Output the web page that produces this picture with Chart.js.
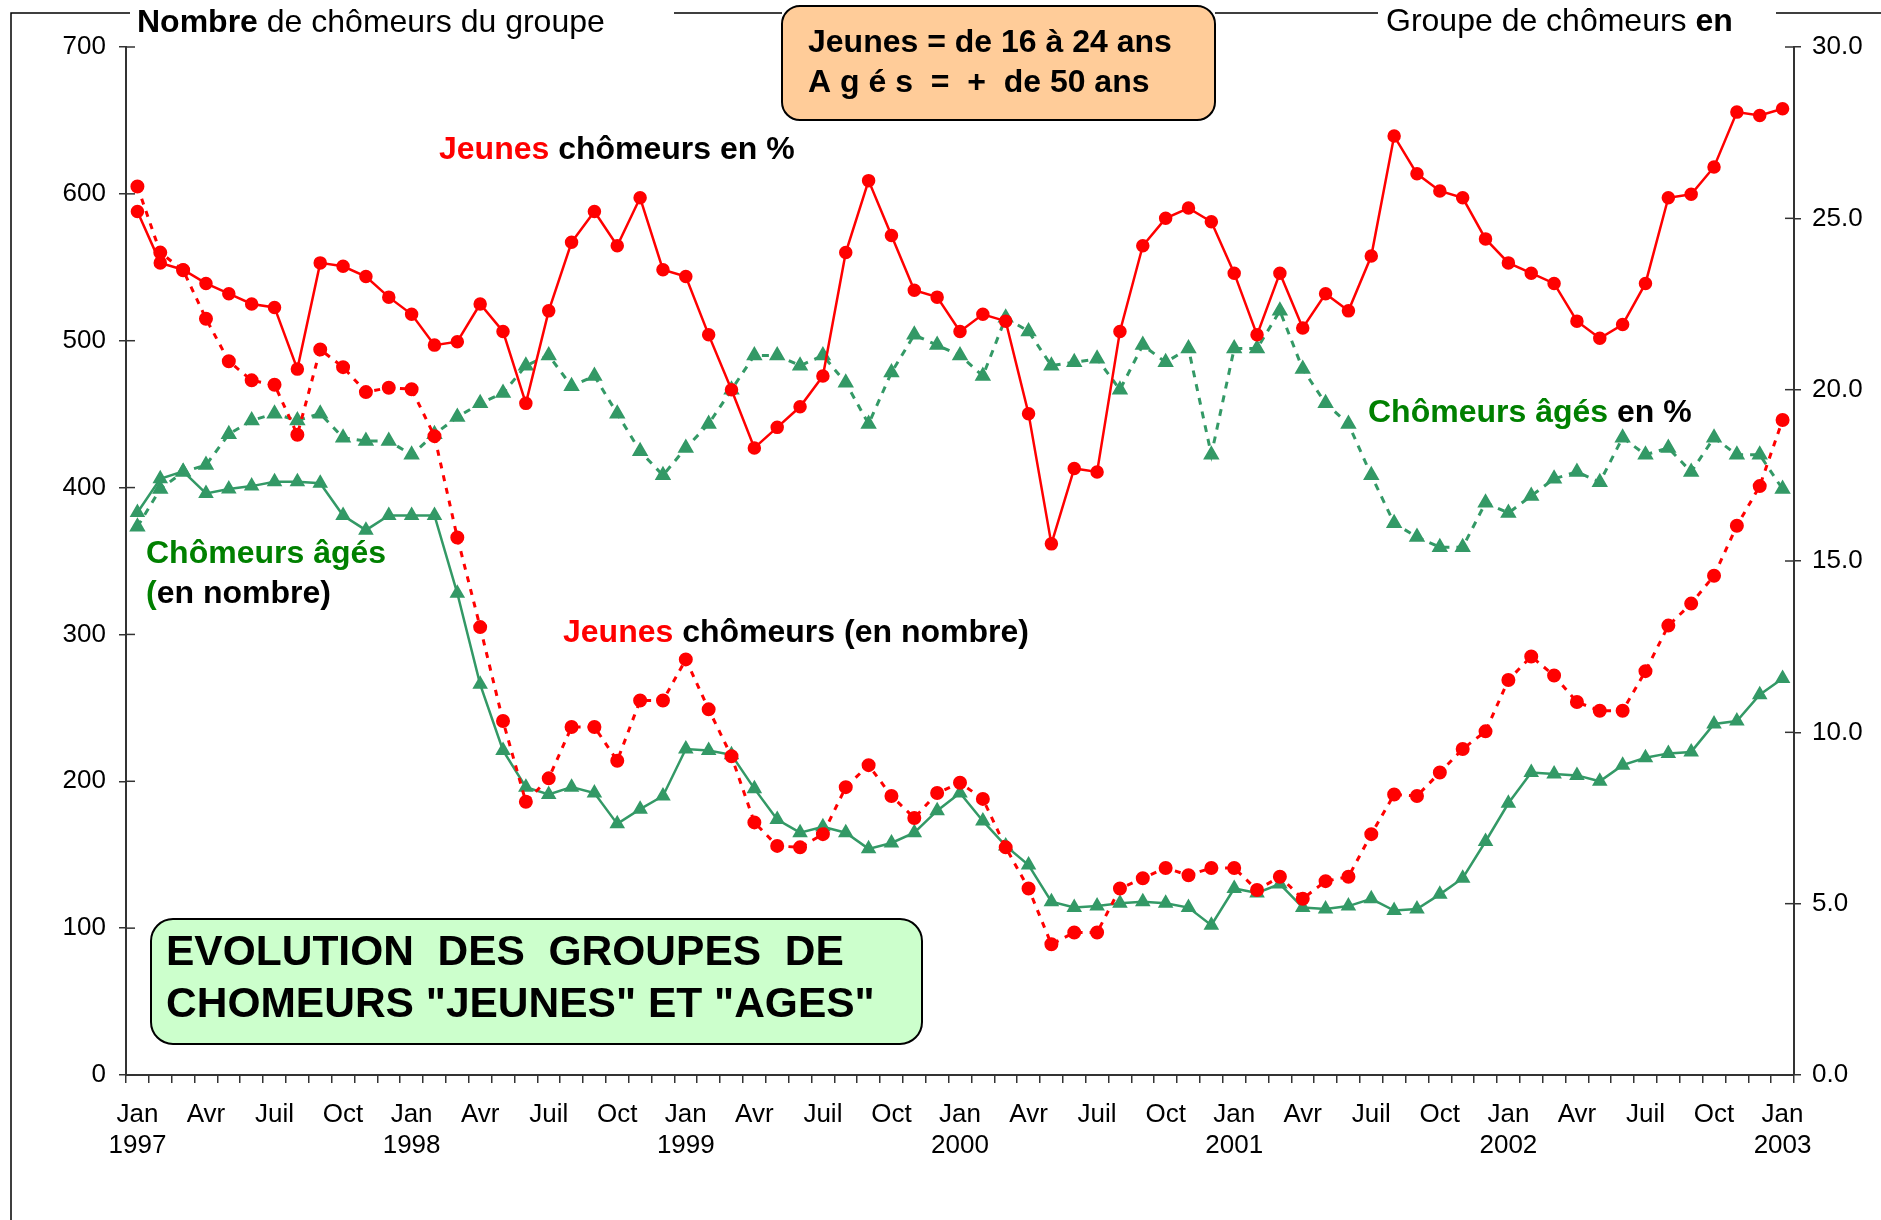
<!DOCTYPE html>
<html lang="fr">
<head>
<meta charset="utf-8">
<title>Evolution des groupes de chômeurs jeunes et âgés</title>
<script src="https://cdn.jsdelivr.net/npm/chart.js@4.4.1/dist/chart.umd.min.js"></script>
<style>
  html, body { margin: 0; padding: 0; background: #fff; }
  #wrap { position: relative; width: 1881px; height: 1220px; }
</style>
</head>
<body>
<div id="wrap"><canvas id="chart" width="1881" height="1220"></canvas></div>
<script>
// categories : un point par mois, de janvier 1997 a janvier 2003
const moisCourts = ['Jan', 'Fév', 'Mar', 'Avr', 'Mai', 'Juin', 'Juil', 'Août', 'Sep', 'Oct', 'Nov', 'Déc'];
const annees = [1997, 1998, 1999, 2000, 2001, 2002, 2003];

// Jeunes chomeurs en % (axe de droite)
const jeunesPct = [
  25.2, 23.7, 23.5, 23.1, 22.8, 22.5, 22.4, 20.6, 23.7, 23.6,
  23.3, 22.7, 22.2, 21.3, 21.4, 22.5, 21.7, 19.6, 22.3, 24.3,
  25.2, 24.2, 25.6, 23.5, 23.3, 21.6, 20.0, 18.3, 18.9, 19.5,
  20.4, 24.0, 26.1, 24.5, 22.9, 22.7, 21.7, 22.2, 22.0, 19.3,
  15.5, 17.7, 17.6, 21.7, 24.2, 25.0, 25.3, 24.9, 23.4, 21.6,
  23.4, 21.8, 22.8, 22.3, 23.9, 27.4, 26.3, 25.8, 25.6, 24.4,
  23.7, 23.4, 23.1, 22.0, 21.5, 21.9, 23.1, 25.6, 25.7, 26.5,
  28.1, 28.0, 28.2
];

// Jeunes chomeurs en nombre (axe de gauche)
const jeunesNombre = [
  605, 560, 548, 515, 486, 473, 470, 436, 494, 482,
  465, 468, 467, 435, 366, 305, 241, 186, 202, 237,
  237, 214, 255, 255, 283, 249, 217, 172, 156, 155,
  164, 196, 211, 190, 175, 192, 199, 188, 155, 127,
  89, 97, 97, 127, 134, 141, 136, 141, 141, 126,
  135, 120, 132, 135, 164, 191, 190, 206, 222, 234,
  269, 285, 272, 254, 248, 248, 275, 306, 321, 340,
  374, 401, 446
];

// Chomeurs ages en % (axe de droite)
const agesPct = [
  16.0, 17.1, 17.6, 17.8, 18.7, 19.1, 19.3, 19.1, 19.3, 18.6,
  18.5, 18.5, 18.1, 18.7, 19.2, 19.6, 19.9, 20.7, 21.0, 20.1,
  20.4, 19.3, 18.2, 17.5, 18.3, 19.0, 20.0, 21.0, 21.0, 20.7,
  21.0, 20.2, 19.0, 20.5, 21.6, 21.3, 21.0, 20.4, 22.1, 21.7,
  20.7, 20.8, 20.9, 20.0, 21.3, 20.8, 21.2, 18.1, 21.2, 21.2,
  22.3, 20.6, 19.6, 19.0, 17.5, 16.1, 15.7, 15.4, 15.4, 16.7,
  16.4, 16.9, 17.4, 17.6, 17.3, 18.6, 18.1, 18.3, 17.6, 18.6,
  18.1, 18.1, 17.1
];

// Chomeurs ages en nombre (axe de gauche)
const agesNombre = [
  383, 406, 411, 396, 399, 401, 404, 404, 403, 381,
  371, 381, 381, 381, 328, 266, 221, 196, 191, 196,
  192, 171, 181, 190, 222, 221, 218, 195, 174, 165,
  169, 165, 154, 158, 165, 180, 192, 173, 156, 143,
  118, 114, 115, 117, 118, 117, 114, 102, 127, 124,
  130, 114, 113, 115, 120, 112, 113, 123, 134, 159,
  185, 206, 205, 204, 200, 211, 216, 219, 220, 239,
  241, 259, 270
];

// graduations des axes
const nombreTicks = { min: 0, max: 700, step: 100 };
const pctTicks = { min: 0, max: 30, step: 5 };
const moisAffiches = { 0: 'Jan', 3: 'Avr', 6: 'Juil', 9: 'Oct' };

const categories = [];
annees.forEach(a => {
  moisCourts.forEach((m, i) => {
    if (categories.length < 73) categories.push({ mois: i, nom: m, annee: a });
  });
});

const ROUGE = '#ff0000';
const VERT = '#339966';
const VERT_TEXTE = '#008000';
const POLICE = '"Liberation Sans", Arial, Helvetica, sans-serif';

function texteRiche(ctx, x, y, parts, size) {
  let cx = x;
  parts.forEach(p => {
    ctx.font = (p.bold === false ? '' : 'bold ') + size + 'px ' + POLICE;
    ctx.fillStyle = p.color || '#000';
    ctx.fillText(p.text, cx, y);
    cx += ctx.measureText(p.text).width;
  });
}

function boite(ctx, x, y, w, h, r, fond) {
  ctx.beginPath();
  ctx.roundRect(x, y, w, h, r);
  ctx.fillStyle = fond;
  ctx.fill();
  ctx.lineWidth = 2;
  ctx.strokeStyle = '#000';
  ctx.stroke();
}

const decor = {
  id: 'decor',
  beforeDraw(chart) {
    const ctx = chart.ctx;
    ctx.save();
    ctx.strokeStyle = '#000';
    ctx.lineWidth = 1.5;
    ctx.beginPath();
    ctx.moveTo(11, 1220);
    ctx.lineTo(11, 13);
    ctx.lineTo(130, 13);
    ctx.moveTo(674, 13);
    ctx.lineTo(782, 13);
    ctx.moveTo(1215, 13);
    ctx.lineTo(1378, 13);
    ctx.moveTo(1776, 13);
    ctx.lineTo(1881, 13);
    ctx.stroke();
    ctx.restore();
  },
  afterDraw(chart) {
    const ctx = chart.ctx;
    ctx.save();

    // petites graduations vers l'interieur
    ctx.strokeStyle = '#333';
    ctx.lineWidth = 1.5;
    ['y', 'y2'].forEach(id => {
      const s = chart.scales[id];
      const x0 = id === 'y' ? s.right : s.left;
      const dir = id === 'y' ? 1 : -1;
      s.ticks.forEach((t, i) => {
        const py = s.getPixelForTick(i);
        ctx.beginPath();
        ctx.moveTo(x0, py);
        ctx.lineTo(x0 + dir * 9, py);
        ctx.stroke();
      });
    });

    ctx.textBaseline = 'middle';
    ctx.textAlign = 'left';

    // titres des axes
    texteRiche(ctx, 137, 23, [
      { text: 'Nombre' },
      { text: ' de chômeurs du groupe', bold: false }
    ], 32);
    texteRiche(ctx, 1386, 22, [
      { text: 'Groupe de chômeurs ', bold: false },
      { text: 'en' }
    ], 32);

    // encadre des definitions
    boite(ctx, 782, 6, 433, 114, 18, '#ffcc99');
    texteRiche(ctx, 808, 43, [{ text: 'Jeunes = de 16 à 24 ans' }], 32);
    texteRiche(ctx, 808, 83, [{ text: 'A g é s  =  +  de 50 ans' }], 32);

    // etiquettes des series
    texteRiche(ctx, 439, 150, [
      { text: 'Jeunes', color: ROUGE },
      { text: ' chômeurs en %' }
    ], 32);
    texteRiche(ctx, 1368, 413, [
      { text: 'Chômeurs âgés', color: VERT_TEXTE },
      { text: ' en %' }
    ], 32);
    texteRiche(ctx, 146, 554, [{ text: 'Chômeurs âgés', color: VERT_TEXTE }], 32);
    texteRiche(ctx, 146, 594, [
      { text: '(', color: VERT_TEXTE },
      { text: 'en nombre)' }
    ], 32);
    texteRiche(ctx, 563, 633, [
      { text: 'Jeunes', color: ROUGE },
      { text: ' chômeurs (en nombre)' }
    ], 32);

    // titre du graphique
    boite(ctx, 151, 919, 771, 125, 22, '#ccffcc');
    texteRiche(ctx, 166, 953, [{ text: 'EVOLUTION  DES  GROUPES  DE' }], 42.5);
    texteRiche(ctx, 166, 1005, [{ text: 'CHOMEURS "JEUNES" ET "AGES"' }], 42.5);

    ctx.restore();
  }
};

const axeFont = { family: POLICE, size: 26 };

new Chart(document.getElementById('chart'), {
  type: 'line',
  data: {
    labels: categories.map(c => c.nom + ' ' + c.annee),
    datasets: [
      {
        label: 'Jeunes chômeurs en %',
        data: jeunesPct,
        yAxisID: 'y2',
        borderColor: ROUGE,
        backgroundColor: ROUGE,
        borderWidth: 2.5,
        pointStyle: 'circle',
        pointRadius: 5.5,
        tension: 0
      },
      {
        label: 'Jeunes chômeurs (en nombre)',
        data: jeunesNombre,
        yAxisID: 'y',
        borderColor: ROUGE,
        backgroundColor: ROUGE,
        borderWidth: 3,
        borderDash: [6, 7],
        pointStyle: 'circle',
        pointRadius: 5.5,
        tension: 0
      },
      {
        label: 'Chômeurs âgés en %',
        data: agesPct,
        yAxisID: 'y2',
        borderColor: VERT,
        backgroundColor: VERT,
        borderWidth: 3,
        borderDash: [7, 7],
        pointStyle: 'triangle',
        pointRadius: 6.5,
        tension: 0
      },
      {
        label: 'Chômeurs âgés (en nombre)',
        data: agesNombre,
        yAxisID: 'y',
        borderColor: VERT,
        backgroundColor: VERT,
        borderWidth: 2.5,
        pointStyle: 'triangle',
        pointRadius: 6.5,
        tension: 0
      }
    ]
  },
  options: {
    responsive: false,
    animation: false,
    layout: { padding: { top: 47, left: 0, right: 0, bottom: 0 } },
    plugins: {
      legend: { display: false },
      tooltip: { enabled: false }
    },
    scales: {
      x: {
        type: 'category',
        offset: true,
        grid: { offset: true, drawOnChartArea: false, drawTicks: true, tickLength: 8, color: '#333', lineWidth: 1.5 },
        border: { color: '#333', width: 2 },
        ticks: {
          autoSkip: false,
          maxRotation: 0,
          minRotation: 0,
          padding: 16,
          color: '#000',
          font: axeFont,
          callback: function (v, i) {
            const c = categories[i];
            const m = moisAffiches[c.mois];
            if (!m) return '';
            return c.mois === 0 ? [m, String(c.annee)] : m;
          }
        },
        afterFit: s => { s.height = 145; }
      },
      y: {
        position: 'left',
        min: nombreTicks.min,
        max: nombreTicks.max,
        grid: { drawOnChartArea: false, tickLength: 7, color: '#333', lineWidth: 1.5 },
        border: { color: '#333', width: 2 },
        ticks: { stepSize: nombreTicks.step, padding: 13, color: '#000', font: axeFont },
        afterFit: s => { s.width = 126; }
      },
      y2: {
        position: 'right',
        min: pctTicks.min,
        max: pctTicks.max,
        grid: { drawOnChartArea: false, tickLength: 7, color: '#333', lineWidth: 1.5 },
        border: { color: '#333', width: 2 },
        ticks: {
          stepSize: pctTicks.step,
          padding: 11,
          color: '#000',
          font: axeFont,
          callback: v => v.toFixed(1)
        },
        afterFit: s => { s.width = 87; }
      }
    }
  },
  plugins: [decor]
});
</script>
</body>
</html>
